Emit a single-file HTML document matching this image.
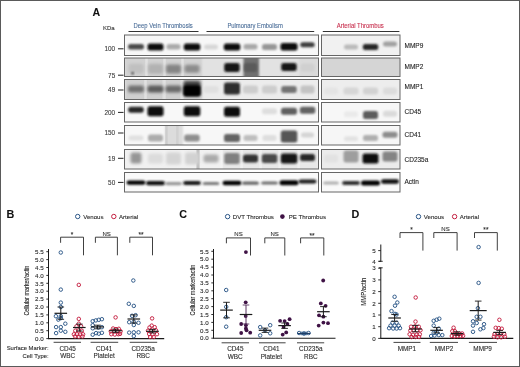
<!DOCTYPE html>
<html><head><meta charset="utf-8"><style>
html,body{margin:0;padding:0;background:#fff;}
body{width:520px;height:367px;overflow:hidden;position:relative;font-family:"Liberation Sans", sans-serif;}
svg.root{position:absolute;left:0;top:0;will-change:transform;}
svg text{font-family:"Liberation Sans", sans-serif;}
</style></head><body>
<svg class="root" width="520" height="367" viewBox="0 0 520 367">
<rect x="0" y="0" width="520" height="367" fill="#fff"/>
<defs><filter id="bl" x="-40%" y="-100%" width="180%" height="300%"><feGaussianBlur stdDeviation="1.1"/></filter><filter id="bls" x="-40%" y="-100%" width="180%" height="300%"><feGaussianBlur stdDeviation="0.8"/></filter><filter id="blc" x="-20%" y="-20%" width="140%" height="140%"><feGaussianBlur stdDeviation="1.0"/></filter><filter id="blb" x="-40%" y="-100%" width="180%" height="300%"><feGaussianBlur stdDeviation="1.6"/></filter></defs>
<svg x="124.5" y="35.0" width="194.0" height="20.5" viewBox="124.5 35.0 194.0 20.5" overflow="hidden">
<rect x="124.5" y="35.0" width="194.0" height="20.5" fill="#f7f7f7"/>
<rect x="128.0" y="43.9" width="16.0" height="5.5" rx="2.5" fill="#484848" filter="url(#bl)"/>
<rect x="147.5" y="43.4" width="16.0" height="7.0" rx="2.5" fill="#101010" filter="url(#bl)"/>
<rect x="166.5" y="44.1" width="14.0" height="5.5" rx="2.5" fill="#aaaaaa" filter="url(#bl)"/>
<rect x="183.8" y="43.4" width="16.5" height="7.0" rx="2.5" fill="#0c0c0c" filter="url(#bl)"/>
<rect x="204.0" y="44.4" width="14.0" height="5.0" rx="2.5" fill="#d7d7d7" filter="url(#bl)"/>
<rect x="223.8" y="43.4" width="16.5" height="7.0" rx="2.5" fill="#0c0c0c" filter="url(#bl)"/>
<rect x="243.5" y="44.1" width="14.0" height="5.5" rx="2.5" fill="#a8a8a8" filter="url(#bl)"/>
<rect x="262.0" y="43.9" width="15.0" height="6.0" rx="2.5" fill="#969696" filter="url(#bl)"/>
<rect x="280.5" y="42.9" width="17.0" height="7.5" rx="2.5" fill="#0a0a0a" filter="url(#bl)"/>
<rect x="300.2" y="42.2" width="14.5" height="5.0" rx="2.5" fill="#3e3e3e" filter="url(#bl)"/>
</svg>
<svg x="321.5" y="35.0" width="78.5" height="20.5" viewBox="321.5 35.0 78.5 20.5" overflow="hidden">
<rect x="321.5" y="35.0" width="78.5" height="20.5" fill="#f1f1f1"/>
<rect x="344.0" y="44.4" width="14.0" height="5.0" rx="2.5" fill="#b9b9b9" filter="url(#bl)"/>
<rect x="362.8" y="43.9" width="15.5" height="6.0" rx="2.5" fill="#282828" filter="url(#bl)"/>
<rect x="383.0" y="41.6" width="14.0" height="5.0" rx="2.5" fill="#a0a0a0" filter="url(#bl)"/>
</svg>
<rect x="124.5" y="35.0" width="194.0" height="20.5" fill="none" stroke="#666666" stroke-width="1"/>
<rect x="321.5" y="35.0" width="78.5" height="20.5" fill="none" stroke="#666666" stroke-width="1"/>
<text x="115.2" y="51.1" font-size="6.4" text-anchor="end" fill="#3a3a3a" stroke="#3a3a3a" stroke-width="0.1">100</text>
<line x1="118" y1="48.8" x2="123.5" y2="48.8" stroke="#222" stroke-width="1"/>
<text x="404.5" y="48.0" font-size="6.5" fill="#1e1e1e" stroke="#1e1e1e" stroke-width="0.1">MMP9</text>
<svg x="124.5" y="58.0" width="194.0" height="18.5" viewBox="124.5 58.0 194.0 18.5" overflow="hidden">
<rect x="124.5" y="58.0" width="194.0" height="18.5" fill="#e2e2e2"/>
<rect x="125.0" y="56.0" width="77.0" height="22.5" fill="#d2d2d2" filter="url(#blc)"/>
<rect x="243.5" y="56.0" width="15.5" height="22.5" fill="#707070" filter="url(#blc)"/>
<rect x="299.0" y="56.0" width="19.0" height="22.5" fill="#dadada" filter="url(#blc)"/>
<rect x="145.5" y="56.0" width="2.0" height="22.5" fill="#eeeeee" filter="url(#blc)"/>
<rect x="163.5" y="56.0" width="2.0" height="22.5" fill="#eeeeee" filter="url(#blc)"/>
<rect x="181.5" y="56.0" width="2.0" height="22.5" fill="#eeeeee" filter="url(#blc)"/>
<rect x="128.5" y="63.8" width="15.0" height="10.0" rx="2.5" fill="#c0c0c0" filter="url(#blb)"/>
<rect x="148.0" y="63.8" width="15.0" height="10.0" rx="2.5" fill="#b2b2b2" filter="url(#blb)"/>
<rect x="166.0" y="64.5" width="15.0" height="9.0" rx="2.5" fill="#848484" filter="url(#blb)"/>
<rect x="184.5" y="64.8" width="15.0" height="8.0" rx="2.5" fill="#8c8c8c" filter="url(#blb)"/>
<rect x="224.2" y="63.1" width="15.5" height="9.0" rx="2.5" fill="#161616" filter="url(#bl)"/>
<rect x="244.0" y="63.1" width="13.0" height="9.0" rx="2.5" fill="#5a5a5a" filter="url(#bl)"/>
<rect x="281.2" y="63.1" width="15.5" height="8.0" rx="2.5" fill="#181818" filter="url(#bl)"/>
<rect x="300.5" y="63.6" width="14.0" height="8.0" rx="2.5" fill="#d0d0d0" filter="url(#bl)"/>
<circle cx="132.6" cy="73.3" r="1.1" fill="#0f0f0f" filter="url(#bls)"/>
</svg>
<svg x="321.5" y="58.0" width="78.5" height="18.5" viewBox="321.5 58.0 78.5 18.5" overflow="hidden">
<rect x="321.5" y="58.0" width="78.5" height="18.5" fill="#d5d5d5"/>
</svg>
<rect x="124.5" y="58.0" width="194.0" height="18.5" fill="none" stroke="#666666" stroke-width="1"/>
<rect x="321.5" y="58.0" width="78.5" height="18.5" fill="none" stroke="#666666" stroke-width="1"/>
<text x="115.2" y="77.5" font-size="6.4" text-anchor="end" fill="#3a3a3a" stroke="#3a3a3a" stroke-width="0.1">75</text>
<line x1="118" y1="75.2" x2="123.5" y2="75.2" stroke="#222" stroke-width="1"/>
<text x="404.5" y="68.6" font-size="6.5" fill="#1e1e1e" stroke="#1e1e1e" stroke-width="0.1">MMP2</text>
<svg x="124.5" y="79.5" width="194.0" height="20.0" viewBox="124.5 79.5 194.0 20.0" overflow="hidden">
<rect x="124.5" y="79.5" width="194.0" height="20.0" fill="#ececec"/>
<rect x="125.0" y="77.5" width="77.0" height="24.0" fill="#d0d0d0" filter="url(#blc)"/>
<rect x="144.5" y="77.5" width="2.0" height="24.0" fill="#eeeeee" filter="url(#blc)"/>
<rect x="163.3" y="77.5" width="2.0" height="24.0" fill="#eeeeee" filter="url(#blc)"/>
<rect x="181.0" y="77.5" width="2.0" height="24.0" fill="#eeeeee" filter="url(#blc)"/>
<rect x="128.0" y="85.5" width="16.0" height="7.0" rx="2.5" fill="#707070" filter="url(#blb)"/>
<rect x="147.5" y="85.5" width="16.0" height="7.0" rx="2.5" fill="#5a5a5a" filter="url(#blb)"/>
<rect x="165.5" y="85.5" width="16.0" height="7.0" rx="2.5" fill="#696969" filter="url(#blb)"/>
<rect x="183.5" y="80.9" width="17.0" height="15.0" rx="2.5" fill="#3c3c3c" filter="url(#blb)"/>
<rect x="183.5" y="85.2" width="17.0" height="11.0" rx="2.5" fill="#020202" filter="url(#bl)"/>
<rect x="203.5" y="85.9" width="15.0" height="7.0" rx="2.5" fill="#e0e0e0" filter="url(#bl)"/>
<rect x="224.0" y="82.4" width="16.0" height="12.0" rx="2.5" fill="#2d2d2d" filter="url(#bl)"/>
<rect x="243.0" y="85.4" width="15.0" height="8.0" rx="2.5" fill="#cdcdcd" filter="url(#bl)"/>
<rect x="262.0" y="85.4" width="15.0" height="8.0" rx="2.5" fill="#cdcdcd" filter="url(#bl)"/>
<rect x="281.2" y="85.9" width="15.5" height="7.0" rx="2.5" fill="#737373" filter="url(#bl)"/>
<rect x="300.5" y="85.4" width="14.0" height="8.0" rx="2.5" fill="#c3c3c3" filter="url(#bl)"/>
</svg>
<svg x="321.5" y="79.5" width="78.5" height="20.0" viewBox="321.5 79.5 78.5 20.0" overflow="hidden">
<rect x="321.5" y="79.5" width="78.5" height="20.0" fill="#ededed"/>
<rect x="324.0" y="87.5" width="14.0" height="7.0" rx="2.5" fill="#e4e4e4" filter="url(#bl)"/>
<rect x="343.5" y="87.5" width="15.0" height="7.0" rx="2.5" fill="#d6d6d6" filter="url(#bl)"/>
<rect x="363.0" y="87.5" width="15.0" height="7.0" rx="2.5" fill="#d2d2d2" filter="url(#bl)"/>
<rect x="383.0" y="87.5" width="14.0" height="7.0" rx="2.5" fill="#dcdcdc" filter="url(#bl)"/>
</svg>
<rect x="124.5" y="79.5" width="194.0" height="20.0" fill="none" stroke="#666666" stroke-width="1"/>
<rect x="321.5" y="79.5" width="78.5" height="20.0" fill="none" stroke="#666666" stroke-width="1"/>
<text x="115.2" y="92.3" font-size="6.4" text-anchor="end" fill="#3a3a3a" stroke="#3a3a3a" stroke-width="0.1">49</text>
<line x1="118" y1="90.0" x2="123.5" y2="90.0" stroke="#222" stroke-width="1"/>
<text x="404.5" y="89.1" font-size="6.5" fill="#1e1e1e" stroke="#1e1e1e" stroke-width="0.1">MMP1</text>
<svg x="124.5" y="102.5" width="194.0" height="19.5" viewBox="124.5 102.5 194.0 19.5" overflow="hidden">
<rect x="124.5" y="102.5" width="194.0" height="19.5" fill="#f8f8f8"/>
<rect x="128.2" y="106.7" width="15.5" height="6.0" rx="2.5" fill="#282828" filter="url(#bl)"/>
<rect x="147.5" y="106.2" width="16.0" height="10.0" rx="2.5" fill="#0a0a0a" filter="url(#bl)"/>
<rect x="183.8" y="106.2" width="16.5" height="10.0" rx="2.5" fill="#0a0a0a" filter="url(#bl)"/>
<rect x="224.0" y="106.7" width="16.0" height="10.0" rx="2.5" fill="#0a0a0a" filter="url(#bl)"/>
<rect x="262.0" y="108.2" width="15.0" height="6.0" rx="2.5" fill="#dedede" filter="url(#bl)"/>
<rect x="281.0" y="107.7" width="16.0" height="7.0" rx="2.5" fill="#5f5f5f" filter="url(#bl)"/>
<rect x="299.8" y="106.7" width="15.5" height="7.0" rx="2.5" fill="#626262" filter="url(#bl)"/>
</svg>
<svg x="321.5" y="102.5" width="78.5" height="19.5" viewBox="321.5 102.5 78.5 19.5" overflow="hidden">
<rect x="321.5" y="102.5" width="78.5" height="19.5" fill="#f7f7f7"/>
<rect x="344.0" y="111.2" width="14.0" height="6.0" rx="2.5" fill="#eaeaea" filter="url(#bl)"/>
<rect x="363.0" y="111.0" width="15.0" height="8.0" rx="2.5" fill="#5c5c5c" filter="url(#bl)"/>
<rect x="383.0" y="110.7" width="14.0" height="6.0" rx="2.5" fill="#dadada" filter="url(#bl)"/>
</svg>
<rect x="124.5" y="102.5" width="194.0" height="19.5" fill="none" stroke="#666666" stroke-width="1"/>
<rect x="321.5" y="102.5" width="78.5" height="19.5" fill="none" stroke="#666666" stroke-width="1"/>
<text x="115.2" y="114.7" font-size="6.4" text-anchor="end" fill="#3a3a3a" stroke="#3a3a3a" stroke-width="0.1">200</text>
<line x1="118" y1="112.4" x2="123.5" y2="112.4" stroke="#222" stroke-width="1"/>
<text x="404.5" y="113.6" font-size="6.5" fill="#1e1e1e" stroke="#1e1e1e" stroke-width="0.1">CD45</text>
<svg x="124.5" y="125.5" width="194.0" height="19.5" viewBox="124.5 125.5 194.0 19.5" overflow="hidden">
<rect x="124.5" y="125.5" width="194.0" height="19.5" fill="#f7f7f7"/>
<rect x="165.0" y="123.5" width="18.0" height="23.5" fill="#dcdcdc" filter="url(#blc)"/>
<rect x="165.5" y="123.5" width="1.5" height="23.5" fill="#b9b9b9" filter="url(#blc)"/>
<rect x="176.5" y="123.5" width="1.5" height="23.5" fill="#c3c3c3" filter="url(#blc)"/>
<rect x="128.5" y="135.5" width="15.0" height="5.0" rx="2.5" fill="#e0e0e0" filter="url(#bl)"/>
<rect x="148.0" y="134.5" width="15.0" height="7.0" rx="2.5" fill="#acacac" filter="url(#bl)"/>
<rect x="184.2" y="134.5" width="15.5" height="7.0" rx="2.5" fill="#8e8e8e" filter="url(#bl)"/>
<rect x="224.0" y="134.0" width="16.0" height="8.0" rx="2.5" fill="#646464" filter="url(#bl)"/>
<rect x="243.5" y="135.0" width="14.0" height="6.0" rx="2.5" fill="#bebebe" filter="url(#bl)"/>
<rect x="262.5" y="135.0" width="14.0" height="6.0" rx="2.5" fill="#dedede" filter="url(#bl)"/>
<rect x="280.8" y="130.5" width="16.5" height="12.0" rx="2.5" fill="#555555" filter="url(#bl)"/>
<rect x="301.0" y="132.5" width="13.0" height="5.0" rx="2.5" fill="#d4d4d4" filter="url(#bl)"/>
</svg>
<svg x="321.5" y="125.5" width="78.5" height="19.5" viewBox="321.5 125.5 78.5 19.5" overflow="hidden">
<rect x="321.5" y="125.5" width="78.5" height="19.5" fill="#f6f6f6"/>
<rect x="344.0" y="136.2" width="14.0" height="5.0" rx="2.5" fill="#e2e2e2" filter="url(#bl)"/>
<rect x="363.0" y="135.0" width="15.0" height="6.0" rx="2.5" fill="#afafaf" filter="url(#bl)"/>
<rect x="382.5" y="131.8" width="15.0" height="6.0" rx="2.5" fill="#8c8c8c" filter="url(#bl)"/>
</svg>
<rect x="124.5" y="125.5" width="194.0" height="19.5" fill="none" stroke="#666666" stroke-width="1"/>
<rect x="321.5" y="125.5" width="78.5" height="19.5" fill="none" stroke="#666666" stroke-width="1"/>
<text x="115.2" y="135.3" font-size="6.4" text-anchor="end" fill="#3a3a3a" stroke="#3a3a3a" stroke-width="0.1">150</text>
<line x1="118" y1="133.0" x2="123.5" y2="133.0" stroke="#222" stroke-width="1"/>
<text x="404.5" y="137.0" font-size="6.5" fill="#1e1e1e" stroke="#1e1e1e" stroke-width="0.1">CD41</text>
<svg x="124.5" y="149.5" width="194.0" height="19.5" viewBox="124.5 149.5 194.0 19.5" overflow="hidden">
<rect x="124.5" y="149.5" width="194.0" height="19.5" fill="#f1f1f1"/>
<rect x="222.0" y="147.5" width="96.0" height="23.5" fill="#e8e8e8" filter="url(#blc)"/>
<rect x="221.0" y="147.5" width="1.5" height="23.5" fill="#fafafa" filter="url(#blc)"/>
<rect x="241.0" y="147.5" width="1.5" height="23.5" fill="#fafafa" filter="url(#blc)"/>
<rect x="260.0" y="147.5" width="1.5" height="23.5" fill="#fafafa" filter="url(#blc)"/>
<rect x="279.0" y="147.5" width="1.5" height="23.5" fill="#fafafa" filter="url(#blc)"/>
<rect x="298.0" y="147.5" width="1.5" height="23.5" fill="#fafafa" filter="url(#blc)"/>
<rect x="197.0" y="147.5" width="2.0" height="23.5" fill="#a0a0a0" filter="url(#blc)"/>
<rect x="130.5" y="152.5" width="11.0" height="11.0" rx="2.5" fill="#969696" filter="url(#blb)"/>
<rect x="148.0" y="153.5" width="15.0" height="10.0" rx="2.5" fill="#dcdcdc" filter="url(#blb)"/>
<rect x="166.0" y="152.5" width="15.0" height="12.0" rx="2.5" fill="#d4d4d4" filter="url(#blb)"/>
<rect x="185.0" y="152.5" width="14.0" height="12.0" rx="2.5" fill="#d2d2d2" filter="url(#blb)"/>
<rect x="203.5" y="154.5" width="15.0" height="8.0" rx="2.5" fill="#aaaaaa" filter="url(#blb)"/>
<rect x="224.2" y="153.0" width="15.5" height="11.0" rx="2.5" fill="#808080" filter="url(#bl)"/>
<rect x="243.0" y="154.5" width="15.0" height="8.0" rx="2.5" fill="#323232" filter="url(#bl)"/>
<rect x="261.8" y="154.0" width="15.5" height="9.0" rx="2.5" fill="#484848" filter="url(#bl)"/>
<rect x="280.8" y="153.5" width="16.5" height="10.0" rx="2.5" fill="#121212" filter="url(#bl)"/>
<rect x="300.0" y="154.0" width="15.0" height="7.0" rx="2.5" fill="#282828" filter="url(#bl)"/>
</svg>
<svg x="321.5" y="149.5" width="78.5" height="19.5" viewBox="321.5 149.5 78.5 19.5" overflow="hidden">
<rect x="321.5" y="149.5" width="78.5" height="19.5" fill="#ececec"/>
<rect x="324.0" y="154.5" width="14.0" height="8.0" rx="2.5" fill="#e2e2e2" filter="url(#bl)"/>
<rect x="343.5" y="150.5" width="15.0" height="12.0" rx="2.5" fill="#9e9e9e" filter="url(#bl)"/>
<rect x="362.5" y="153.5" width="16.0" height="10.0" rx="2.5" fill="#0e0e0e" filter="url(#bl)"/>
<rect x="382.5" y="151.5" width="15.0" height="10.0" rx="2.5" fill="#848484" filter="url(#bl)"/>
</svg>
<rect x="124.5" y="149.5" width="194.0" height="19.5" fill="none" stroke="#666666" stroke-width="1"/>
<rect x="321.5" y="149.5" width="78.5" height="19.5" fill="none" stroke="#666666" stroke-width="1"/>
<text x="115.2" y="160.6" font-size="6.4" text-anchor="end" fill="#3a3a3a" stroke="#3a3a3a" stroke-width="0.1">19</text>
<line x1="118" y1="158.3" x2="123.5" y2="158.3" stroke="#222" stroke-width="1"/>
<text x="404.5" y="162.3" font-size="6.5" fill="#1e1e1e" stroke="#1e1e1e" stroke-width="0.1">CD235a</text>
<svg x="124.5" y="172.5" width="194.0" height="19.5" viewBox="124.5 172.5 194.0 19.5" overflow="hidden">
<rect x="124.5" y="172.5" width="194.0" height="19.5" fill="#fafafa"/>
<rect x="126.5" y="180.6" width="19.0" height="4.2" rx="2.5" fill="#060606" filter="url(#bls)"/>
<rect x="146.0" y="181.1" width="19.0" height="4.2" rx="2.5" fill="#0a0a0a" filter="url(#bls)"/>
<rect x="165.0" y="182.0" width="17.0" height="3.2" rx="2.5" fill="#969696" filter="url(#bls)"/>
<rect x="183.0" y="180.9" width="18.0" height="4.2" rx="2.5" fill="#181818" filter="url(#bls)"/>
<rect x="202.5" y="181.9" width="17.0" height="3.2" rx="2.5" fill="#787878" filter="url(#bls)"/>
<rect x="222.5" y="180.8" width="19.0" height="4.4" rx="2.5" fill="#060606" filter="url(#bls)"/>
<rect x="242.0" y="181.6" width="17.0" height="3.2" rx="2.5" fill="#646464" filter="url(#bls)"/>
<rect x="261.0" y="181.4" width="17.0" height="3.2" rx="2.5" fill="#6c6c6c" filter="url(#bls)"/>
<rect x="279.5" y="180.2" width="19.0" height="5.0" rx="2.5" fill="#040404" filter="url(#bls)"/>
<rect x="298.5" y="179.4" width="18.0" height="4.2" rx="2.5" fill="#1a1a1a" filter="url(#bls)"/>
</svg>
<svg x="321.5" y="172.5" width="78.5" height="19.5" viewBox="321.5 172.5 78.5 19.5" overflow="hidden">
<rect x="321.5" y="172.5" width="78.5" height="19.5" fill="#fafafa"/>
<rect x="323.0" y="181.4" width="16.0" height="3.2" rx="2.5" fill="#afafaf" filter="url(#bls)"/>
<rect x="342.0" y="180.9" width="18.0" height="4.2" rx="2.5" fill="#2d2d2d" filter="url(#bls)"/>
<rect x="361.0" y="180.5" width="19.0" height="5.0" rx="2.5" fill="#050505" filter="url(#bls)"/>
<rect x="381.0" y="179.2" width="18.0" height="4.6" rx="2.5" fill="#080808" filter="url(#bls)"/>
</svg>
<rect x="124.5" y="172.5" width="194.0" height="19.5" fill="none" stroke="#666666" stroke-width="1"/>
<rect x="321.5" y="172.5" width="78.5" height="19.5" fill="none" stroke="#666666" stroke-width="1"/>
<text x="115.2" y="184.7" font-size="6.4" text-anchor="end" fill="#3a3a3a" stroke="#3a3a3a" stroke-width="0.1">50</text>
<line x1="118" y1="182.4" x2="123.5" y2="182.4" stroke="#222" stroke-width="1"/>
<text x="404.5" y="184.1" font-size="6.5" fill="#1e1e1e" stroke="#1e1e1e" stroke-width="0.1">Actin</text>
<text x="92.6" y="15.8" font-size="10.6" font-weight="bold" fill="#111" stroke="#111" stroke-width="0.05">A</text>
<text x="103" y="30.3" font-size="6.0" fill="#333" stroke="#333" stroke-width="0.1">KDa</text>
<text x="133.6" y="27.5" font-size="6.8" fill="#4a6d98" textLength="59.2" lengthAdjust="spacingAndGlyphs" stroke="#4a6d98" stroke-width="0.1">Deep Vein Thrombosis</text>
<text x="227.4" y="27.5" font-size="6.8" fill="#4a6d98" textLength="55.4" lengthAdjust="spacingAndGlyphs" stroke="#4a6d98" stroke-width="0.1">Pulmonary Embolism</text>
<text x="336.7" y="27.5" font-size="6.8" fill="#c8304e" textLength="47.1" lengthAdjust="spacingAndGlyphs" stroke="#c8304e" stroke-width="0.1">Arterial Thrombus</text>
<line x1="128.5" y1="31.5" x2="198.5" y2="31.5" stroke="#333" stroke-width="1.1"/>
<line x1="206.5" y1="31.5" x2="314.2" y2="31.5" stroke="#333" stroke-width="1.1"/>
<line x1="322.8" y1="31.5" x2="399.4" y2="31.5" stroke="#333" stroke-width="1.1"/>
<text x="6.6" y="218.2" font-size="10.8" text-anchor="start" fill="#111" font-weight="bold" stroke="#111" stroke-width="0.05">B</text>
<circle cx="77.7" cy="216.5" r="2.20" fill="none" stroke="#2b5687" stroke-width="1.00"/>
<text x="83.2" y="218.6" font-size="6.1" text-anchor="start" fill="#2a2a2a" stroke="#2a2a2a" stroke-width="0.1">Venous</text>
<circle cx="113.8" cy="216.5" r="2.20" fill="none" stroke="#c41f40" stroke-width="1.00"/>
<text x="119.0" y="218.6" font-size="6.1" text-anchor="start" fill="#2a2a2a" stroke="#2a2a2a" stroke-width="0.1">Arterial</text>
<polyline points="60.6,242.8 60.6,237.2 83.5,237.2 83.5,255.3" fill="none" stroke="#2a2a2a" stroke-width="0.9"/>
<text x="72.0" y="237.0" font-size="6.5" text-anchor="middle" fill="#2a2a2a" stroke="#2a2a2a" stroke-width="0.1">*</text>
<polyline points="95.4,242.8 95.4,237.2 117.4,237.2 117.4,255.3" fill="none" stroke="#2a2a2a" stroke-width="0.9"/>
<text x="106.6" y="235.6" font-size="6.0" text-anchor="middle" fill="#2a2a2a" stroke="#2a2a2a" stroke-width="0.1">NS</text>
<polyline points="129.8,242.8 129.8,237.2 152.5,237.2 152.5,255.3" fill="none" stroke="#2a2a2a" stroke-width="0.9"/>
<text x="141.1" y="237.0" font-size="6.5" text-anchor="middle" fill="#2a2a2a" stroke="#2a2a2a" stroke-width="0.1">**</text>
<line x1="48.5" y1="249.0" x2="48.5" y2="338.6" stroke="#1a1a1a" stroke-width="1.00"/>
<line x1="46.3" y1="338.6" x2="48.5" y2="338.6" stroke="#1a1a1a" stroke-width="0.90"/>
<text x="43.6" y="340.8" font-size="6.2" text-anchor="end" fill="#2a2a2a" stroke="#2a2a2a" stroke-width="0.1">0.0</text>
<line x1="46.3" y1="330.7" x2="48.5" y2="330.7" stroke="#1a1a1a" stroke-width="0.90"/>
<text x="43.6" y="332.9" font-size="6.2" text-anchor="end" fill="#2a2a2a" stroke="#2a2a2a" stroke-width="0.1">0.5</text>
<line x1="46.3" y1="322.8" x2="48.5" y2="322.8" stroke="#1a1a1a" stroke-width="0.90"/>
<text x="43.6" y="325.0" font-size="6.2" text-anchor="end" fill="#2a2a2a" stroke="#2a2a2a" stroke-width="0.1">1.0</text>
<line x1="46.3" y1="314.9" x2="48.5" y2="314.9" stroke="#1a1a1a" stroke-width="0.90"/>
<text x="43.6" y="317.1" font-size="6.2" text-anchor="end" fill="#2a2a2a" stroke="#2a2a2a" stroke-width="0.1">1.5</text>
<line x1="46.3" y1="307.0" x2="48.5" y2="307.0" stroke="#1a1a1a" stroke-width="0.90"/>
<text x="43.6" y="309.2" font-size="6.2" text-anchor="end" fill="#2a2a2a" stroke="#2a2a2a" stroke-width="0.1">2.0</text>
<line x1="46.3" y1="299.1" x2="48.5" y2="299.1" stroke="#1a1a1a" stroke-width="0.90"/>
<text x="43.6" y="301.3" font-size="6.2" text-anchor="end" fill="#2a2a2a" stroke="#2a2a2a" stroke-width="0.1">2.5</text>
<line x1="46.3" y1="291.2" x2="48.5" y2="291.2" stroke="#1a1a1a" stroke-width="0.90"/>
<text x="43.6" y="293.4" font-size="6.2" text-anchor="end" fill="#2a2a2a" stroke="#2a2a2a" stroke-width="0.1">3.0</text>
<line x1="46.3" y1="283.3" x2="48.5" y2="283.3" stroke="#1a1a1a" stroke-width="0.90"/>
<text x="43.6" y="285.5" font-size="6.2" text-anchor="end" fill="#2a2a2a" stroke="#2a2a2a" stroke-width="0.1">3.5</text>
<line x1="46.3" y1="275.4" x2="48.5" y2="275.4" stroke="#1a1a1a" stroke-width="0.90"/>
<text x="43.6" y="277.6" font-size="6.2" text-anchor="end" fill="#2a2a2a" stroke="#2a2a2a" stroke-width="0.1">4.0</text>
<line x1="46.3" y1="267.5" x2="48.5" y2="267.5" stroke="#1a1a1a" stroke-width="0.90"/>
<text x="43.6" y="269.7" font-size="6.2" text-anchor="end" fill="#2a2a2a" stroke="#2a2a2a" stroke-width="0.1">4.5</text>
<line x1="46.3" y1="259.6" x2="48.5" y2="259.6" stroke="#1a1a1a" stroke-width="0.90"/>
<text x="43.6" y="261.8" font-size="6.2" text-anchor="end" fill="#2a2a2a" stroke="#2a2a2a" stroke-width="0.1">5.0</text>
<line x1="46.3" y1="251.7" x2="48.5" y2="251.7" stroke="#1a1a1a" stroke-width="0.90"/>
<text x="43.6" y="253.9" font-size="6.2" text-anchor="end" fill="#2a2a2a" stroke="#2a2a2a" stroke-width="0.1">5.5</text>
<line x1="48.0" y1="338.6" x2="164.2" y2="338.6" stroke="#1a1a1a" stroke-width="1.10"/>
<text x="0.0" y="0.0" font-size="7.2" text-anchor="middle" fill="#222" transform="translate(28.6,290.6) rotate(-90) scale(0.76,1)" stroke="#222" stroke-width="0.1">Cellular marker/actin</text>
<line x1="53.6" y1="342.3" x2="81.0" y2="342.3" stroke="#444" stroke-width="1.00"/>
<text x="67.6" y="350.6" font-size="6.4" text-anchor="middle" fill="#2a2a2a" stroke="#2a2a2a" stroke-width="0.1">CD45</text>
<text x="67.6" y="357.9" font-size="6.4" text-anchor="middle" fill="#2a2a2a" stroke="#2a2a2a" stroke-width="0.1">WBC</text>
<line x1="90.6" y1="342.3" x2="118.2" y2="342.3" stroke="#444" stroke-width="1.00"/>
<text x="104.2" y="350.6" font-size="6.4" text-anchor="middle" fill="#2a2a2a" stroke="#2a2a2a" stroke-width="0.1">CD41</text>
<text x="104.2" y="357.9" font-size="6.4" text-anchor="middle" fill="#2a2a2a" stroke="#2a2a2a" stroke-width="0.1">Platelet</text>
<line x1="129.7" y1="342.3" x2="157.2" y2="342.3" stroke="#444" stroke-width="1.00"/>
<text x="143.2" y="350.6" font-size="6.4" text-anchor="middle" fill="#2a2a2a" stroke="#2a2a2a" stroke-width="0.1">CD235a</text>
<text x="143.2" y="357.9" font-size="6.4" text-anchor="middle" fill="#2a2a2a" stroke="#2a2a2a" stroke-width="0.1">RBC</text>
<text x="48.6" y="350.4" font-size="5.9" text-anchor="end" fill="#2a2a2a" stroke="#2a2a2a" stroke-width="0.1">Surface Marker:</text>
<text x="48.6" y="357.8" font-size="5.9" text-anchor="end" fill="#2a2a2a" stroke="#2a2a2a" stroke-width="0.1">Cell Type:</text>
<circle cx="60.8" cy="252.5" r="1.75" fill="none" stroke="#2b5687" stroke-width="0.95"/>
<circle cx="60.8" cy="289.6" r="1.75" fill="none" stroke="#2b5687" stroke-width="0.95"/>
<circle cx="60.8" cy="302.6" r="1.75" fill="none" stroke="#2b5687" stroke-width="0.95"/>
<circle cx="60.8" cy="307.0" r="1.75" fill="none" stroke="#2b5687" stroke-width="0.95"/>
<circle cx="55.9" cy="316.2" r="1.75" fill="none" stroke="#2b5687" stroke-width="0.95"/>
<circle cx="60.8" cy="316.2" r="1.75" fill="none" stroke="#2b5687" stroke-width="0.95"/>
<circle cx="60.8" cy="318.1" r="1.75" fill="none" stroke="#2b5687" stroke-width="0.95"/>
<circle cx="58.3" cy="319.6" r="1.75" fill="none" stroke="#2b5687" stroke-width="0.95"/>
<circle cx="65.3" cy="323.7" r="1.75" fill="none" stroke="#2b5687" stroke-width="0.95"/>
<circle cx="56.1" cy="327.1" r="1.75" fill="none" stroke="#2b5687" stroke-width="0.95"/>
<circle cx="60.8" cy="327.1" r="1.75" fill="none" stroke="#2b5687" stroke-width="0.95"/>
<circle cx="60.8" cy="330.7" r="1.75" fill="none" stroke="#2b5687" stroke-width="0.95"/>
<circle cx="56.1" cy="333.1" r="1.75" fill="none" stroke="#2b5687" stroke-width="0.95"/>
<circle cx="65.3" cy="331.8" r="1.75" fill="none" stroke="#2b5687" stroke-width="0.95"/>
<line x1="60.8" y1="307.0" x2="60.8" y2="319.3" stroke="#1a1a1a" stroke-width="1"/>
<line x1="57.5" y1="307.0" x2="64.1" y2="307.0" stroke="#1a1a1a" stroke-width="0.9"/>
<line x1="57.5" y1="319.3" x2="64.1" y2="319.3" stroke="#1a1a1a" stroke-width="0.9"/>
<line x1="54.5" y1="313.3" x2="67.1" y2="313.3" stroke="#1a1a1a" stroke-width="1.2"/>
<circle cx="78.8" cy="284.9" r="1.75" fill="none" stroke="#c41f40" stroke-width="0.95"/>
<circle cx="78.8" cy="318.9" r="1.75" fill="none" stroke="#c41f40" stroke-width="0.95"/>
<circle cx="78.8" cy="323.7" r="1.75" fill="none" stroke="#c41f40" stroke-width="0.95"/>
<circle cx="76.5" cy="326.3" r="1.75" fill="none" stroke="#c41f40" stroke-width="0.95"/>
<circle cx="81.1" cy="326.3" r="1.75" fill="none" stroke="#c41f40" stroke-width="0.95"/>
<circle cx="75.3" cy="330.7" r="1.75" fill="none" stroke="#c41f40" stroke-width="0.95"/>
<circle cx="78.6" cy="330.4" r="1.75" fill="none" stroke="#c41f40" stroke-width="0.95"/>
<circle cx="81.8" cy="330.7" r="1.75" fill="none" stroke="#c41f40" stroke-width="0.95"/>
<circle cx="73.9" cy="334.3" r="1.75" fill="none" stroke="#c41f40" stroke-width="0.95"/>
<circle cx="77.0" cy="334.3" r="1.75" fill="none" stroke="#c41f40" stroke-width="0.95"/>
<circle cx="80.0" cy="334.5" r="1.75" fill="none" stroke="#c41f40" stroke-width="0.95"/>
<circle cx="83.1" cy="334.3" r="1.75" fill="none" stroke="#c41f40" stroke-width="0.95"/>
<circle cx="75.1" cy="336.4" r="1.75" fill="none" stroke="#c41f40" stroke-width="0.95"/>
<circle cx="78.8" cy="336.7" r="1.75" fill="none" stroke="#c41f40" stroke-width="0.95"/>
<circle cx="82.5" cy="336.4" r="1.75" fill="none" stroke="#c41f40" stroke-width="0.95"/>
<line x1="79.3" y1="324.1" x2="79.3" y2="331.0" stroke="#1a1a1a" stroke-width="1"/>
<line x1="76.0" y1="324.1" x2="82.6" y2="324.1" stroke="#1a1a1a" stroke-width="0.9"/>
<line x1="76.0" y1="331.0" x2="82.6" y2="331.0" stroke="#1a1a1a" stroke-width="0.9"/>
<line x1="73.0" y1="327.5" x2="85.6" y2="327.5" stroke="#1a1a1a" stroke-width="1.2"/>
<circle cx="101.9" cy="319.2" r="1.75" fill="none" stroke="#2b5687" stroke-width="0.95"/>
<circle cx="98.8" cy="319.8" r="1.75" fill="none" stroke="#2b5687" stroke-width="0.95"/>
<circle cx="95.8" cy="320.4" r="1.75" fill="none" stroke="#2b5687" stroke-width="0.95"/>
<circle cx="92.7" cy="321.2" r="1.75" fill="none" stroke="#2b5687" stroke-width="0.95"/>
<circle cx="92.7" cy="325.2" r="1.75" fill="none" stroke="#2b5687" stroke-width="0.95"/>
<circle cx="92.7" cy="328.3" r="1.75" fill="none" stroke="#2b5687" stroke-width="0.95"/>
<circle cx="101.9" cy="327.2" r="1.75" fill="none" stroke="#2b5687" stroke-width="0.95"/>
<circle cx="98.3" cy="327.5" r="1.75" fill="none" stroke="#2b5687" stroke-width="0.95"/>
<circle cx="92.7" cy="334.7" r="1.75" fill="none" stroke="#2b5687" stroke-width="0.95"/>
<circle cx="96.1" cy="333.1" r="1.75" fill="none" stroke="#2b5687" stroke-width="0.95"/>
<circle cx="98.8" cy="333.7" r="1.75" fill="none" stroke="#2b5687" stroke-width="0.95"/>
<circle cx="101.9" cy="332.8" r="1.75" fill="none" stroke="#2b5687" stroke-width="0.95"/>
<line x1="97.5" y1="325.2" x2="97.5" y2="328.8" stroke="#1a1a1a" stroke-width="1"/>
<line x1="94.2" y1="325.2" x2="100.8" y2="325.2" stroke="#1a1a1a" stroke-width="0.9"/>
<line x1="94.2" y1="328.8" x2="100.8" y2="328.8" stroke="#1a1a1a" stroke-width="0.9"/>
<line x1="91.2" y1="326.9" x2="103.8" y2="326.9" stroke="#1a1a1a" stroke-width="1.2"/>
<circle cx="115.6" cy="317.4" r="1.75" fill="none" stroke="#c41f40" stroke-width="0.95"/>
<circle cx="113.1" cy="328.5" r="1.75" fill="none" stroke="#c41f40" stroke-width="0.95"/>
<circle cx="116.0" cy="329.1" r="1.75" fill="none" stroke="#c41f40" stroke-width="0.95"/>
<circle cx="118.8" cy="328.8" r="1.75" fill="none" stroke="#c41f40" stroke-width="0.95"/>
<circle cx="110.8" cy="331.3" r="1.75" fill="none" stroke="#c41f40" stroke-width="0.95"/>
<circle cx="114.2" cy="331.3" r="1.75" fill="none" stroke="#c41f40" stroke-width="0.95"/>
<circle cx="117.7" cy="331.3" r="1.75" fill="none" stroke="#c41f40" stroke-width="0.95"/>
<circle cx="120.6" cy="331.3" r="1.75" fill="none" stroke="#c41f40" stroke-width="0.95"/>
<circle cx="111.3" cy="334.2" r="1.75" fill="none" stroke="#c41f40" stroke-width="0.95"/>
<circle cx="114.8" cy="334.5" r="1.75" fill="none" stroke="#c41f40" stroke-width="0.95"/>
<circle cx="118.3" cy="334.2" r="1.75" fill="none" stroke="#c41f40" stroke-width="0.95"/>
<circle cx="120.0" cy="333.9" r="1.75" fill="none" stroke="#c41f40" stroke-width="0.95"/>
<line x1="115.5" y1="329.1" x2="115.5" y2="332.3" stroke="#1a1a1a" stroke-width="1"/>
<line x1="112.2" y1="329.1" x2="118.8" y2="329.1" stroke="#1a1a1a" stroke-width="0.9"/>
<line x1="112.2" y1="332.3" x2="118.8" y2="332.3" stroke="#1a1a1a" stroke-width="0.9"/>
<line x1="109.2" y1="330.7" x2="121.8" y2="330.7" stroke="#1a1a1a" stroke-width="1.2"/>
<circle cx="133.3" cy="280.5" r="1.75" fill="none" stroke="#2b5687" stroke-width="0.95"/>
<circle cx="128.8" cy="303.8" r="1.75" fill="none" stroke="#2b5687" stroke-width="0.95"/>
<circle cx="133.8" cy="305.9" r="1.75" fill="none" stroke="#2b5687" stroke-width="0.95"/>
<circle cx="132.1" cy="315.8" r="1.75" fill="none" stroke="#2b5687" stroke-width="0.95"/>
<circle cx="135.6" cy="315.2" r="1.75" fill="none" stroke="#2b5687" stroke-width="0.95"/>
<circle cx="129.2" cy="322.2" r="1.75" fill="none" stroke="#2b5687" stroke-width="0.95"/>
<circle cx="133.8" cy="321.7" r="1.75" fill="none" stroke="#2b5687" stroke-width="0.95"/>
<circle cx="138.5" cy="322.8" r="1.75" fill="none" stroke="#2b5687" stroke-width="0.95"/>
<circle cx="133.8" cy="325.0" r="1.75" fill="none" stroke="#2b5687" stroke-width="0.95"/>
<circle cx="129.2" cy="332.6" r="1.75" fill="none" stroke="#2b5687" stroke-width="0.95"/>
<circle cx="133.8" cy="332.3" r="1.75" fill="none" stroke="#2b5687" stroke-width="0.95"/>
<circle cx="138.5" cy="332.3" r="1.75" fill="none" stroke="#2b5687" stroke-width="0.95"/>
<circle cx="133.8" cy="336.1" r="1.75" fill="none" stroke="#2b5687" stroke-width="0.95"/>
<line x1="133.8" y1="314.9" x2="133.8" y2="323.1" stroke="#1a1a1a" stroke-width="1"/>
<line x1="130.5" y1="314.9" x2="137.1" y2="314.9" stroke="#1a1a1a" stroke-width="0.9"/>
<line x1="130.5" y1="323.1" x2="137.1" y2="323.1" stroke="#1a1a1a" stroke-width="0.9"/>
<line x1="127.5" y1="319.0" x2="140.1" y2="319.0" stroke="#1a1a1a" stroke-width="1.2"/>
<circle cx="152.1" cy="318.4" r="1.75" fill="none" stroke="#c41f40" stroke-width="0.95"/>
<circle cx="151.7" cy="325.6" r="1.75" fill="none" stroke="#c41f40" stroke-width="0.95"/>
<circle cx="149.5" cy="327.5" r="1.75" fill="none" stroke="#c41f40" stroke-width="0.95"/>
<circle cx="154.7" cy="327.2" r="1.75" fill="none" stroke="#c41f40" stroke-width="0.95"/>
<circle cx="148.0" cy="330.7" r="1.75" fill="none" stroke="#c41f40" stroke-width="0.95"/>
<circle cx="151.2" cy="330.4" r="1.75" fill="none" stroke="#c41f40" stroke-width="0.95"/>
<circle cx="155.8" cy="330.2" r="1.75" fill="none" stroke="#c41f40" stroke-width="0.95"/>
<circle cx="149.2" cy="334.0" r="1.75" fill="none" stroke="#c41f40" stroke-width="0.95"/>
<circle cx="152.5" cy="334.3" r="1.75" fill="none" stroke="#c41f40" stroke-width="0.95"/>
<circle cx="157.0" cy="334.2" r="1.75" fill="none" stroke="#c41f40" stroke-width="0.95"/>
<circle cx="150.2" cy="337.0" r="1.75" fill="none" stroke="#c41f40" stroke-width="0.95"/>
<circle cx="153.7" cy="337.0" r="1.75" fill="none" stroke="#c41f40" stroke-width="0.95"/>
<line x1="152.5" y1="329.4" x2="152.5" y2="332.9" stroke="#1a1a1a" stroke-width="1"/>
<line x1="149.2" y1="329.4" x2="155.8" y2="329.4" stroke="#1a1a1a" stroke-width="0.9"/>
<line x1="149.2" y1="332.9" x2="155.8" y2="332.9" stroke="#1a1a1a" stroke-width="0.9"/>
<line x1="146.2" y1="331.3" x2="158.8" y2="331.3" stroke="#1a1a1a" stroke-width="1.2"/>
<text x="179.3" y="218.2" font-size="10.8" text-anchor="start" fill="#111" font-weight="bold" stroke="#111" stroke-width="0.05">C</text>
<circle cx="227.6" cy="216.6" r="2.20" fill="none" stroke="#2b5687" stroke-width="1.00"/>
<text x="232.8" y="218.7" font-size="6.1" text-anchor="start" fill="#2a2a2a" stroke="#2a2a2a" stroke-width="0.1">DVT Thrombus</text>
<circle cx="282.4" cy="216.6" r="2.3" fill="#3f1245"/>
<text x="288.8" y="218.7" font-size="6.1" text-anchor="start" fill="#2a2a2a" stroke="#2a2a2a" stroke-width="0.1">PE Thrombus</text>
<polyline points="226.4,243.3 226.4,237.9 250.5,237.9 250.5,255.5" fill="none" stroke="#2a2a2a" stroke-width="0.9"/>
<text x="238.5" y="235.9" font-size="6.0" text-anchor="middle" fill="#2a2a2a" stroke="#2a2a2a" stroke-width="0.1">NS</text>
<polyline points="264.8,243.3 264.8,237.9 284.8,237.9 284.8,255.5" fill="none" stroke="#2a2a2a" stroke-width="0.9"/>
<text x="274.6" y="235.9" font-size="6.0" text-anchor="middle" fill="#2a2a2a" stroke="#2a2a2a" stroke-width="0.1">NS</text>
<polyline points="300.6,243.3 300.6,237.9 323.8,237.9 323.8,255.5" fill="none" stroke="#2a2a2a" stroke-width="0.9"/>
<text x="312.0" y="237.7" font-size="6.5" text-anchor="middle" fill="#2a2a2a" stroke="#2a2a2a" stroke-width="0.1">**</text>
<line x1="213.5" y1="249.0" x2="213.5" y2="338.2" stroke="#1a1a1a" stroke-width="1.00"/>
<line x1="211.3" y1="338.2" x2="213.5" y2="338.2" stroke="#1a1a1a" stroke-width="0.90"/>
<text x="208.6" y="340.4" font-size="6.2" text-anchor="end" fill="#2a2a2a" stroke="#2a2a2a" stroke-width="0.1">0.0</text>
<line x1="211.3" y1="330.3" x2="213.5" y2="330.3" stroke="#1a1a1a" stroke-width="0.90"/>
<text x="208.6" y="332.5" font-size="6.2" text-anchor="end" fill="#2a2a2a" stroke="#2a2a2a" stroke-width="0.1">0.5</text>
<line x1="211.3" y1="322.4" x2="213.5" y2="322.4" stroke="#1a1a1a" stroke-width="0.90"/>
<text x="208.6" y="324.6" font-size="6.2" text-anchor="end" fill="#2a2a2a" stroke="#2a2a2a" stroke-width="0.1">1.0</text>
<line x1="211.3" y1="314.5" x2="213.5" y2="314.5" stroke="#1a1a1a" stroke-width="0.90"/>
<text x="208.6" y="316.7" font-size="6.2" text-anchor="end" fill="#2a2a2a" stroke="#2a2a2a" stroke-width="0.1">1.5</text>
<line x1="211.3" y1="306.6" x2="213.5" y2="306.6" stroke="#1a1a1a" stroke-width="0.90"/>
<text x="208.6" y="308.8" font-size="6.2" text-anchor="end" fill="#2a2a2a" stroke="#2a2a2a" stroke-width="0.1">2.0</text>
<line x1="211.3" y1="298.7" x2="213.5" y2="298.7" stroke="#1a1a1a" stroke-width="0.90"/>
<text x="208.6" y="300.9" font-size="6.2" text-anchor="end" fill="#2a2a2a" stroke="#2a2a2a" stroke-width="0.1">2.5</text>
<line x1="211.3" y1="290.8" x2="213.5" y2="290.8" stroke="#1a1a1a" stroke-width="0.90"/>
<text x="208.6" y="293.0" font-size="6.2" text-anchor="end" fill="#2a2a2a" stroke="#2a2a2a" stroke-width="0.1">3.0</text>
<line x1="211.3" y1="282.9" x2="213.5" y2="282.9" stroke="#1a1a1a" stroke-width="0.90"/>
<text x="208.6" y="285.1" font-size="6.2" text-anchor="end" fill="#2a2a2a" stroke="#2a2a2a" stroke-width="0.1">3.5</text>
<line x1="211.3" y1="275.0" x2="213.5" y2="275.0" stroke="#1a1a1a" stroke-width="0.90"/>
<text x="208.6" y="277.2" font-size="6.2" text-anchor="end" fill="#2a2a2a" stroke="#2a2a2a" stroke-width="0.1">4.0</text>
<line x1="211.3" y1="267.1" x2="213.5" y2="267.1" stroke="#1a1a1a" stroke-width="0.90"/>
<text x="208.6" y="269.3" font-size="6.2" text-anchor="end" fill="#2a2a2a" stroke="#2a2a2a" stroke-width="0.1">4.5</text>
<line x1="211.3" y1="259.2" x2="213.5" y2="259.2" stroke="#1a1a1a" stroke-width="0.90"/>
<text x="208.6" y="261.4" font-size="6.2" text-anchor="end" fill="#2a2a2a" stroke="#2a2a2a" stroke-width="0.1">5.0</text>
<line x1="211.3" y1="251.3" x2="213.5" y2="251.3" stroke="#1a1a1a" stroke-width="0.90"/>
<text x="208.6" y="253.5" font-size="6.2" text-anchor="end" fill="#2a2a2a" stroke="#2a2a2a" stroke-width="0.1">5.5</text>
<line x1="213.0" y1="338.2" x2="335.5" y2="338.2" stroke="#1a1a1a" stroke-width="1.10"/>
<text x="0.0" y="0.0" font-size="7.4" text-anchor="middle" fill="#222" transform="translate(194.8,290.1) rotate(-90) scale(0.75,1)" stroke="#222" stroke-width="0.1">Cellular marker/actin</text>
<line x1="221.6" y1="342.8" x2="249.0" y2="342.8" stroke="#444" stroke-width="1.00"/>
<text x="235.3" y="351.4" font-size="6.4" text-anchor="middle" fill="#2a2a2a" stroke="#2a2a2a" stroke-width="0.1">CD45</text>
<text x="235.3" y="359.0" font-size="6.4" text-anchor="middle" fill="#2a2a2a" stroke="#2a2a2a" stroke-width="0.1">WBC</text>
<line x1="259.0" y1="342.8" x2="285.6" y2="342.8" stroke="#444" stroke-width="1.00"/>
<text x="271.5" y="351.4" font-size="6.4" text-anchor="middle" fill="#2a2a2a" stroke="#2a2a2a" stroke-width="0.1">CD41</text>
<text x="271.5" y="359.0" font-size="6.4" text-anchor="middle" fill="#2a2a2a" stroke="#2a2a2a" stroke-width="0.1">Platelet</text>
<line x1="297.0" y1="342.8" x2="324.2" y2="342.8" stroke="#444" stroke-width="1.00"/>
<text x="310.8" y="351.4" font-size="6.4" text-anchor="middle" fill="#2a2a2a" stroke="#2a2a2a" stroke-width="0.1">CD235a</text>
<text x="310.8" y="359.0" font-size="6.4" text-anchor="middle" fill="#2a2a2a" stroke="#2a2a2a" stroke-width="0.1">RBC</text>
<circle cx="226.2" cy="290.0" r="1.75" fill="none" stroke="#2b5687" stroke-width="0.95"/>
<circle cx="226.2" cy="306.9" r="1.75" fill="none" stroke="#2b5687" stroke-width="0.95"/>
<circle cx="226.2" cy="317.2" r="1.75" fill="none" stroke="#2b5687" stroke-width="0.95"/>
<circle cx="226.2" cy="326.7" r="1.75" fill="none" stroke="#2b5687" stroke-width="0.95"/>
<line x1="226.5" y1="302.3" x2="226.5" y2="317.8" stroke="#1a1a1a" stroke-width="1"/>
<line x1="223.2" y1="302.3" x2="229.8" y2="302.3" stroke="#1a1a1a" stroke-width="0.9"/>
<line x1="223.2" y1="317.8" x2="229.8" y2="317.8" stroke="#1a1a1a" stroke-width="0.9"/>
<line x1="220.2" y1="310.1" x2="232.8" y2="310.1" stroke="#1a1a1a" stroke-width="1.2"/>
<circle cx="245.9" cy="252.1" r="1.90" fill="#3f1245"/>
<circle cx="245.7" cy="302.3" r="1.90" fill="#3f1245"/>
<circle cx="245.7" cy="316.1" r="1.90" fill="#3f1245"/>
<circle cx="241.2" cy="324.0" r="1.90" fill="#3f1245"/>
<circle cx="245.9" cy="325.2" r="1.90" fill="#3f1245"/>
<circle cx="245.9" cy="328.4" r="1.90" fill="#3f1245"/>
<circle cx="246.5" cy="330.3" r="1.90" fill="#3f1245"/>
<circle cx="241.2" cy="333.0" r="1.90" fill="#3f1245"/>
<circle cx="250.2" cy="332.7" r="1.90" fill="#3f1245"/>
<line x1="246.0" y1="305.0" x2="246.0" y2="324.0" stroke="#5a3560" stroke-width="1"/>
<line x1="242.7" y1="305.0" x2="249.3" y2="305.0" stroke="#5a3560" stroke-width="0.9"/>
<line x1="242.7" y1="324.0" x2="249.3" y2="324.0" stroke="#5a3560" stroke-width="0.9"/>
<line x1="239.7" y1="314.5" x2="252.3" y2="314.5" stroke="#1a1a1a" stroke-width="1.2"/>
<circle cx="260.2" cy="327.1" r="1.75" fill="none" stroke="#2b5687" stroke-width="0.95"/>
<circle cx="270.2" cy="325.2" r="1.75" fill="none" stroke="#2b5687" stroke-width="0.95"/>
<circle cx="260.2" cy="335.4" r="1.75" fill="none" stroke="#2b5687" stroke-width="0.95"/>
<circle cx="270.2" cy="333.3" r="1.75" fill="none" stroke="#2b5687" stroke-width="0.95"/>
<circle cx="265.0" cy="330.3" r="1.75" fill="none" stroke="#2b5687" stroke-width="0.95"/>
<line x1="265.0" y1="328.1" x2="265.0" y2="332.4" stroke="#1a1a1a" stroke-width="1"/>
<line x1="261.7" y1="328.1" x2="268.3" y2="328.1" stroke="#1a1a1a" stroke-width="0.9"/>
<line x1="261.7" y1="332.4" x2="268.3" y2="332.4" stroke="#1a1a1a" stroke-width="0.9"/>
<line x1="258.7" y1="330.3" x2="271.3" y2="330.3" stroke="#1a1a1a" stroke-width="1.2"/>
<circle cx="280.1" cy="320.8" r="1.90" fill="#3f1245"/>
<circle cx="284.6" cy="321.1" r="1.90" fill="#3f1245"/>
<circle cx="289.6" cy="319.2" r="1.90" fill="#3f1245"/>
<circle cx="283.6" cy="326.8" r="1.90" fill="#3f1245"/>
<circle cx="287.4" cy="324.0" r="1.90" fill="#3f1245"/>
<circle cx="286.2" cy="332.4" r="1.90" fill="#3f1245"/>
<circle cx="282.7" cy="334.6" r="1.90" fill="#3f1245"/>
<line x1="284.6" y1="323.0" x2="284.6" y2="328.4" stroke="#1a1a1a" stroke-width="1"/>
<line x1="281.3" y1="323.0" x2="287.9" y2="323.0" stroke="#1a1a1a" stroke-width="0.9"/>
<line x1="281.3" y1="328.4" x2="287.9" y2="328.4" stroke="#1a1a1a" stroke-width="0.9"/>
<line x1="278.3" y1="325.6" x2="290.9" y2="325.6" stroke="#1a1a1a" stroke-width="1.2"/>
<circle cx="299.1" cy="333.0" r="1.75" fill="none" stroke="#2b5687" stroke-width="0.95"/>
<circle cx="304.0" cy="333.5" r="1.75" fill="none" stroke="#2b5687" stroke-width="0.95"/>
<circle cx="308.6" cy="333.0" r="1.75" fill="none" stroke="#2b5687" stroke-width="0.95"/>
<line x1="304.0" y1="332.2" x2="304.0" y2="334.7" stroke="#2b5687" stroke-width="1"/>
<line x1="300.7" y1="332.2" x2="307.3" y2="332.2" stroke="#2b5687" stroke-width="0.9"/>
<line x1="300.7" y1="334.7" x2="307.3" y2="334.7" stroke="#2b5687" stroke-width="0.9"/>
<line x1="297.7" y1="333.5" x2="310.3" y2="333.5" stroke="#1f3f66" stroke-width="1.2"/>
<circle cx="323.2" cy="280.5" r="1.90" fill="#3f1245"/>
<circle cx="320.8" cy="303.4" r="1.90" fill="#3f1245"/>
<circle cx="325.6" cy="305.8" r="1.90" fill="#3f1245"/>
<circle cx="319.0" cy="315.3" r="1.90" fill="#3f1245"/>
<circle cx="323.4" cy="316.7" r="1.90" fill="#3f1245"/>
<circle cx="318.7" cy="325.6" r="1.90" fill="#3f1245"/>
<circle cx="323.4" cy="322.6" r="1.90" fill="#3f1245"/>
<circle cx="328.0" cy="323.2" r="1.90" fill="#3f1245"/>
<line x1="323.4" y1="306.6" x2="323.4" y2="316.7" stroke="#1a1a1a" stroke-width="1"/>
<line x1="320.1" y1="306.6" x2="326.7" y2="306.6" stroke="#1a1a1a" stroke-width="0.9"/>
<line x1="320.1" y1="316.7" x2="326.7" y2="316.7" stroke="#1a1a1a" stroke-width="0.9"/>
<line x1="317.1" y1="311.7" x2="329.7" y2="311.7" stroke="#1a1a1a" stroke-width="1.2"/>
<text x="351.6" y="218.2" font-size="10.8" text-anchor="start" fill="#111" font-weight="bold" stroke="#111" stroke-width="0.05">D</text>
<circle cx="418.5" cy="216.6" r="2.20" fill="none" stroke="#2b5687" stroke-width="1.00"/>
<text x="423.8" y="218.7" font-size="6.1" text-anchor="start" fill="#2a2a2a" stroke="#2a2a2a" stroke-width="0.1">Venous</text>
<circle cx="454.6" cy="216.6" r="2.20" fill="none" stroke="#c41f40" stroke-width="1.00"/>
<text x="459.8" y="218.7" font-size="6.1" text-anchor="start" fill="#2a2a2a" stroke="#2a2a2a" stroke-width="0.1">Arterial</text>
<polyline points="400.0,238.0 400.0,232.6 422.9,232.6 422.9,250.6" fill="none" stroke="#2a2a2a" stroke-width="0.9"/>
<text x="411.5" y="232.4" font-size="6.5" text-anchor="middle" fill="#2a2a2a" stroke="#2a2a2a" stroke-width="0.1">*</text>
<polyline points="433.8,238.0 433.8,232.6 457.1,232.6 457.1,250.6" fill="none" stroke="#2a2a2a" stroke-width="0.9"/>
<text x="445.5" y="231.0" font-size="6.0" text-anchor="middle" fill="#2a2a2a" stroke="#2a2a2a" stroke-width="0.1">NS</text>
<polyline points="474.5,238.0 474.5,232.6 497.3,232.6 497.3,250.6" fill="none" stroke="#2a2a2a" stroke-width="0.9"/>
<text x="485.9" y="232.4" font-size="6.5" text-anchor="middle" fill="#2a2a2a" stroke="#2a2a2a" stroke-width="0.1">**</text>
<line x1="380.8" y1="244.5" x2="380.8" y2="261.3" stroke="#1a1a1a" stroke-width="1.00"/>
<line x1="378.9" y1="261.3" x2="382.7" y2="261.3" stroke="#1a1a1a" stroke-width="0.90"/>
<line x1="378.9" y1="267.8" x2="382.7" y2="267.8" stroke="#1a1a1a" stroke-width="0.90"/>
<line x1="380.8" y1="267.8" x2="380.8" y2="338.4" stroke="#1a1a1a" stroke-width="1.00"/>
<line x1="378.2" y1="250.6" x2="380.8" y2="250.6" stroke="#1a1a1a" stroke-width="0.90"/>
<text x="375.6" y="252.8" font-size="6.2" text-anchor="end" fill="#2a2a2a" stroke="#2a2a2a" stroke-width="0.1">5</text>
<line x1="378.2" y1="261.3" x2="380.8" y2="261.3" stroke="#1a1a1a" stroke-width="0.90"/>
<text x="375.6" y="263.5" font-size="6.2" text-anchor="end" fill="#2a2a2a" stroke="#2a2a2a" stroke-width="0.1">4</text>
<line x1="378.2" y1="338.4" x2="380.8" y2="338.4" stroke="#1a1a1a" stroke-width="0.90"/>
<text x="375.6" y="340.6" font-size="6.2" text-anchor="end" fill="#2a2a2a" stroke="#2a2a2a" stroke-width="0.1">0</text>
<line x1="378.2" y1="326.7" x2="380.8" y2="326.7" stroke="#1a1a1a" stroke-width="0.90"/>
<text x="375.6" y="328.9" font-size="6.2" text-anchor="end" fill="#2a2a2a" stroke="#2a2a2a" stroke-width="0.1">1</text>
<line x1="378.2" y1="315.0" x2="380.8" y2="315.0" stroke="#1a1a1a" stroke-width="0.90"/>
<text x="375.6" y="317.2" font-size="6.2" text-anchor="end" fill="#2a2a2a" stroke="#2a2a2a" stroke-width="0.1">1</text>
<line x1="378.2" y1="303.3" x2="380.8" y2="303.3" stroke="#1a1a1a" stroke-width="0.90"/>
<text x="375.6" y="305.5" font-size="6.2" text-anchor="end" fill="#2a2a2a" stroke="#2a2a2a" stroke-width="0.1">2</text>
<line x1="378.2" y1="291.6" x2="380.8" y2="291.6" stroke="#1a1a1a" stroke-width="0.90"/>
<text x="375.6" y="293.8" font-size="6.2" text-anchor="end" fill="#2a2a2a" stroke="#2a2a2a" stroke-width="0.1">2</text>
<line x1="378.2" y1="279.9" x2="380.8" y2="279.9" stroke="#1a1a1a" stroke-width="0.90"/>
<text x="375.6" y="282.1" font-size="6.2" text-anchor="end" fill="#2a2a2a" stroke="#2a2a2a" stroke-width="0.1">3</text>
<line x1="378.2" y1="268.2" x2="380.8" y2="268.2" stroke="#1a1a1a" stroke-width="0.90"/>
<text x="375.6" y="270.4" font-size="6.2" text-anchor="end" fill="#2a2a2a" stroke="#2a2a2a" stroke-width="0.1">3</text>
<line x1="380.3" y1="338.4" x2="513.3" y2="338.4" stroke="#1a1a1a" stroke-width="1.10"/>
<text x="0.0" y="0.0" font-size="6.9" text-anchor="middle" fill="#222" transform="translate(365.6,291.7) rotate(-90) scale(0.86,1)" stroke="#222" stroke-width="0.1">MMP/actin</text>
<line x1="393.5" y1="342.4" x2="420.5" y2="342.4" stroke="#444" stroke-width="1.00"/>
<text x="406.9" y="351.4" font-size="6.4" text-anchor="middle" fill="#2a2a2a" stroke="#2a2a2a" stroke-width="0.1">MMP1</text>
<line x1="429.8" y1="342.4" x2="458.0" y2="342.4" stroke="#444" stroke-width="1.00"/>
<text x="444.0" y="351.4" font-size="6.4" text-anchor="middle" fill="#2a2a2a" stroke="#2a2a2a" stroke-width="0.1">MMP2</text>
<line x1="468.9" y1="342.4" x2="497.0" y2="342.4" stroke="#444" stroke-width="1.00"/>
<text x="482.6" y="351.4" font-size="6.4" text-anchor="middle" fill="#2a2a2a" stroke="#2a2a2a" stroke-width="0.1">MMP9</text>
<circle cx="394.6" cy="296.8" r="1.75" fill="none" stroke="#2b5687" stroke-width="0.95"/>
<circle cx="397.3" cy="302.5" r="1.75" fill="none" stroke="#2b5687" stroke-width="0.95"/>
<circle cx="395.0" cy="305.7" r="1.75" fill="none" stroke="#2b5687" stroke-width="0.95"/>
<circle cx="391.5" cy="311.1" r="1.75" fill="none" stroke="#2b5687" stroke-width="0.95"/>
<circle cx="395.0" cy="313.9" r="1.75" fill="none" stroke="#2b5687" stroke-width="0.95"/>
<circle cx="396.6" cy="314.5" r="1.75" fill="none" stroke="#2b5687" stroke-width="0.95"/>
<circle cx="392.5" cy="322.7" r="1.75" fill="none" stroke="#2b5687" stroke-width="0.95"/>
<circle cx="396.6" cy="322.7" r="1.75" fill="none" stroke="#2b5687" stroke-width="0.95"/>
<circle cx="390.5" cy="325.7" r="1.75" fill="none" stroke="#2b5687" stroke-width="0.95"/>
<circle cx="394.6" cy="325.7" r="1.75" fill="none" stroke="#2b5687" stroke-width="0.95"/>
<circle cx="398.7" cy="325.7" r="1.75" fill="none" stroke="#2b5687" stroke-width="0.95"/>
<circle cx="389.1" cy="328.2" r="1.75" fill="none" stroke="#2b5687" stroke-width="0.95"/>
<circle cx="393.2" cy="328.5" r="1.75" fill="none" stroke="#2b5687" stroke-width="0.95"/>
<circle cx="396.6" cy="328.5" r="1.75" fill="none" stroke="#2b5687" stroke-width="0.95"/>
<circle cx="400.0" cy="328.2" r="1.75" fill="none" stroke="#2b5687" stroke-width="0.95"/>
<line x1="394.6" y1="314.5" x2="394.6" y2="321.3" stroke="#1a1a1a" stroke-width="1"/>
<line x1="391.3" y1="314.5" x2="397.9" y2="314.5" stroke="#1a1a1a" stroke-width="0.9"/>
<line x1="391.3" y1="321.3" x2="397.9" y2="321.3" stroke="#1a1a1a" stroke-width="0.9"/>
<line x1="388.3" y1="318.0" x2="400.9" y2="318.0" stroke="#1a1a1a" stroke-width="1.2"/>
<circle cx="415.7" cy="297.5" r="1.75" fill="none" stroke="#c41f40" stroke-width="0.95"/>
<circle cx="415.5" cy="321.6" r="1.75" fill="none" stroke="#c41f40" stroke-width="0.95"/>
<circle cx="411.0" cy="326.7" r="1.75" fill="none" stroke="#c41f40" stroke-width="0.95"/>
<circle cx="415.1" cy="326.4" r="1.75" fill="none" stroke="#c41f40" stroke-width="0.95"/>
<circle cx="418.8" cy="326.7" r="1.75" fill="none" stroke="#c41f40" stroke-width="0.95"/>
<circle cx="410.3" cy="330.5" r="1.75" fill="none" stroke="#c41f40" stroke-width="0.95"/>
<circle cx="413.7" cy="330.2" r="1.75" fill="none" stroke="#c41f40" stroke-width="0.95"/>
<circle cx="417.1" cy="330.5" r="1.75" fill="none" stroke="#c41f40" stroke-width="0.95"/>
<circle cx="420.5" cy="330.2" r="1.75" fill="none" stroke="#c41f40" stroke-width="0.95"/>
<circle cx="409.6" cy="334.3" r="1.75" fill="none" stroke="#c41f40" stroke-width="0.95"/>
<circle cx="413.0" cy="334.8" r="1.75" fill="none" stroke="#c41f40" stroke-width="0.95"/>
<circle cx="416.4" cy="334.8" r="1.75" fill="none" stroke="#c41f40" stroke-width="0.95"/>
<circle cx="419.8" cy="334.3" r="1.75" fill="none" stroke="#c41f40" stroke-width="0.95"/>
<circle cx="411.6" cy="337.0" r="1.75" fill="none" stroke="#c41f40" stroke-width="0.95"/>
<circle cx="415.7" cy="337.0" r="1.75" fill="none" stroke="#c41f40" stroke-width="0.95"/>
<circle cx="419.1" cy="337.0" r="1.75" fill="none" stroke="#c41f40" stroke-width="0.95"/>
<line x1="415.4" y1="325.4" x2="415.4" y2="331.8" stroke="#1a1a1a" stroke-width="1"/>
<line x1="412.1" y1="325.4" x2="418.7" y2="325.4" stroke="#1a1a1a" stroke-width="0.9"/>
<line x1="412.1" y1="331.8" x2="418.7" y2="331.8" stroke="#1a1a1a" stroke-width="0.9"/>
<line x1="409.1" y1="329.0" x2="421.7" y2="329.0" stroke="#1a1a1a" stroke-width="1.2"/>
<circle cx="433.7" cy="320.8" r="1.75" fill="none" stroke="#2b5687" stroke-width="0.95"/>
<circle cx="436.7" cy="319.7" r="1.75" fill="none" stroke="#2b5687" stroke-width="0.95"/>
<circle cx="439.3" cy="318.7" r="1.75" fill="none" stroke="#2b5687" stroke-width="0.95"/>
<circle cx="433.7" cy="325.6" r="1.75" fill="none" stroke="#2b5687" stroke-width="0.95"/>
<circle cx="438.8" cy="328.6" r="1.75" fill="none" stroke="#2b5687" stroke-width="0.95"/>
<circle cx="433.7" cy="332.9" r="1.75" fill="none" stroke="#2b5687" stroke-width="0.95"/>
<circle cx="437.0" cy="332.6" r="1.75" fill="none" stroke="#2b5687" stroke-width="0.95"/>
<circle cx="431.1" cy="336.0" r="1.75" fill="none" stroke="#2b5687" stroke-width="0.95"/>
<circle cx="434.5" cy="335.5" r="1.75" fill="none" stroke="#2b5687" stroke-width="0.95"/>
<circle cx="438.8" cy="335.1" r="1.75" fill="none" stroke="#2b5687" stroke-width="0.95"/>
<circle cx="442.3" cy="335.1" r="1.75" fill="none" stroke="#2b5687" stroke-width="0.95"/>
<line x1="436.6" y1="327.6" x2="436.6" y2="332.8" stroke="#1a1a1a" stroke-width="1"/>
<line x1="433.3" y1="327.6" x2="439.9" y2="327.6" stroke="#1a1a1a" stroke-width="0.9"/>
<line x1="433.3" y1="332.8" x2="439.9" y2="332.8" stroke="#1a1a1a" stroke-width="0.9"/>
<line x1="430.3" y1="330.3" x2="442.9" y2="330.3" stroke="#1a1a1a" stroke-width="1.2"/>
<circle cx="453.6" cy="327.7" r="1.75" fill="none" stroke="#c41f40" stroke-width="0.95"/>
<circle cx="452.3" cy="331.2" r="1.75" fill="none" stroke="#c41f40" stroke-width="0.95"/>
<circle cx="454.9" cy="331.2" r="1.75" fill="none" stroke="#c41f40" stroke-width="0.95"/>
<circle cx="457.0" cy="333.5" r="1.75" fill="none" stroke="#c41f40" stroke-width="0.95"/>
<circle cx="459.6" cy="333.8" r="1.75" fill="none" stroke="#c41f40" stroke-width="0.95"/>
<circle cx="462.2" cy="333.5" r="1.75" fill="none" stroke="#c41f40" stroke-width="0.95"/>
<circle cx="451.8" cy="336.0" r="1.75" fill="none" stroke="#c41f40" stroke-width="0.95"/>
<circle cx="454.4" cy="336.3" r="1.75" fill="none" stroke="#c41f40" stroke-width="0.95"/>
<circle cx="457.5" cy="336.0" r="1.75" fill="none" stroke="#c41f40" stroke-width="0.95"/>
<circle cx="460.5" cy="336.0" r="1.75" fill="none" stroke="#c41f40" stroke-width="0.95"/>
<circle cx="463.1" cy="335.8" r="1.75" fill="none" stroke="#c41f40" stroke-width="0.95"/>
<line x1="457.0" y1="331.8" x2="457.0" y2="335.2" stroke="#1a1a1a" stroke-width="1"/>
<line x1="453.7" y1="331.8" x2="460.3" y2="331.8" stroke="#1a1a1a" stroke-width="0.9"/>
<line x1="453.7" y1="335.2" x2="460.3" y2="335.2" stroke="#1a1a1a" stroke-width="0.9"/>
<line x1="450.7" y1="333.6" x2="463.3" y2="333.6" stroke="#1a1a1a" stroke-width="1.2"/>
<circle cx="478.6" cy="247.1" r="1.75" fill="none" stroke="#2b5687" stroke-width="0.95"/>
<circle cx="478.6" cy="282.9" r="1.75" fill="none" stroke="#2b5687" stroke-width="0.95"/>
<circle cx="477.9" cy="308.2" r="1.75" fill="none" stroke="#2b5687" stroke-width="0.95"/>
<circle cx="476.7" cy="316.8" r="1.75" fill="none" stroke="#2b5687" stroke-width="0.95"/>
<circle cx="480.4" cy="316.8" r="1.75" fill="none" stroke="#2b5687" stroke-width="0.95"/>
<circle cx="473.0" cy="321.3" r="1.75" fill="none" stroke="#2b5687" stroke-width="0.95"/>
<circle cx="476.7" cy="323.0" r="1.75" fill="none" stroke="#2b5687" stroke-width="0.95"/>
<circle cx="473.0" cy="325.6" r="1.75" fill="none" stroke="#2b5687" stroke-width="0.95"/>
<circle cx="484.0" cy="324.2" r="1.75" fill="none" stroke="#2b5687" stroke-width="0.95"/>
<circle cx="483.4" cy="328.1" r="1.75" fill="none" stroke="#2b5687" stroke-width="0.95"/>
<circle cx="480.4" cy="329.3" r="1.75" fill="none" stroke="#2b5687" stroke-width="0.95"/>
<circle cx="473.0" cy="331.8" r="1.75" fill="none" stroke="#2b5687" stroke-width="0.95"/>
<line x1="478.2" y1="301.1" x2="478.2" y2="320.1" stroke="#1a1a1a" stroke-width="1"/>
<line x1="474.9" y1="301.1" x2="481.5" y2="301.1" stroke="#1a1a1a" stroke-width="0.9"/>
<line x1="474.9" y1="320.1" x2="481.5" y2="320.1" stroke="#1a1a1a" stroke-width="0.9"/>
<line x1="469.7" y1="310.6" x2="486.7" y2="310.6" stroke="#1a1a1a" stroke-width="1.2"/>
<circle cx="499.4" cy="319.8" r="1.75" fill="none" stroke="#c41f40" stroke-width="0.95"/>
<circle cx="495.7" cy="327.8" r="1.75" fill="none" stroke="#c41f40" stroke-width="0.95"/>
<circle cx="498.8" cy="328.1" r="1.75" fill="none" stroke="#c41f40" stroke-width="0.95"/>
<circle cx="501.8" cy="328.7" r="1.75" fill="none" stroke="#c41f40" stroke-width="0.95"/>
<circle cx="494.5" cy="334.2" r="1.75" fill="none" stroke="#c41f40" stroke-width="0.95"/>
<circle cx="497.5" cy="334.0" r="1.75" fill="none" stroke="#c41f40" stroke-width="0.95"/>
<circle cx="500.6" cy="334.2" r="1.75" fill="none" stroke="#c41f40" stroke-width="0.95"/>
<circle cx="504.3" cy="334.2" r="1.75" fill="none" stroke="#c41f40" stroke-width="0.95"/>
<circle cx="493.9" cy="336.7" r="1.75" fill="none" stroke="#c41f40" stroke-width="0.95"/>
<circle cx="497.5" cy="337.3" r="1.75" fill="none" stroke="#c41f40" stroke-width="0.95"/>
<circle cx="501.2" cy="337.3" r="1.75" fill="none" stroke="#c41f40" stroke-width="0.95"/>
<circle cx="504.9" cy="336.7" r="1.75" fill="none" stroke="#c41f40" stroke-width="0.95"/>
<line x1="499.6" y1="330.4" x2="499.6" y2="334.4" stroke="#1a1a1a" stroke-width="1"/>
<line x1="496.3" y1="330.4" x2="502.9" y2="330.4" stroke="#1a1a1a" stroke-width="0.9"/>
<line x1="496.3" y1="334.4" x2="502.9" y2="334.4" stroke="#1a1a1a" stroke-width="0.9"/>
<line x1="493.3" y1="332.4" x2="505.9" y2="332.4" stroke="#1a1a1a" stroke-width="1.2"/>
<rect x="0.5" y="0.5" width="519" height="366" fill="none" stroke="#5a5a5a" stroke-width="1"/>
</svg>
</body></html>
